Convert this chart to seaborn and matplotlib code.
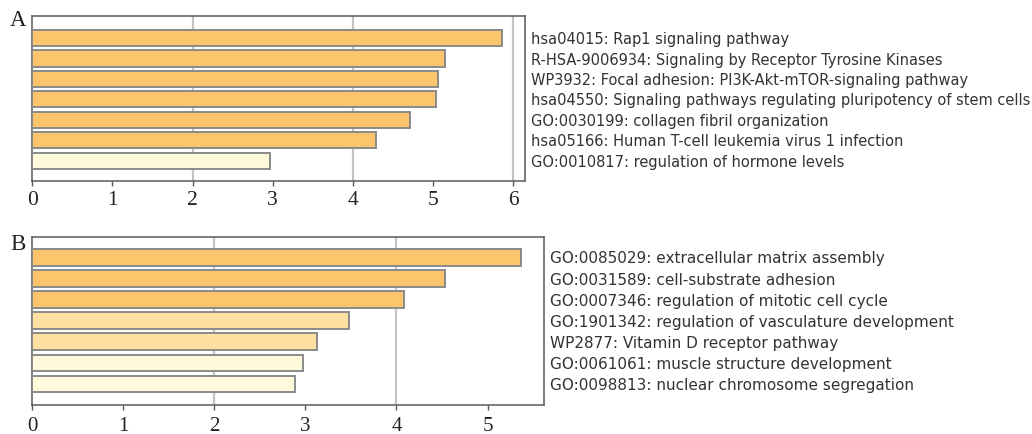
import matplotlib
matplotlib.use("Agg")
import matplotlib.pyplot as plt
import seaborn as sns
import pandas as pd

# ---- data ----
terms_a = [
    "hsa04015: Rap1 signaling pathway",
    "R-HSA-9006934: Signaling by Receptor Tyrosine Kinases",
    "WP3932: Focal adhesion: PI3K-Akt-mTOR-signaling pathway",
    "hsa04550: Signaling pathways regulating pluripotency of stem cells",
    "GO:0030199: collagen fibril organization",
    "hsa05166: Human T-cell leukemia virus 1 infection",
    "GO:0010817: regulation of hormone levels",
]
values_a = [5.86, 5.15, 5.06, 5.04, 4.72, 4.29, 2.97]
colors_a = ["#FDC56B", "#FDC56B", "#FDC56B", "#FDC56B", "#FDC56B", "#FDC56B", "#FFF9DC"]

terms_b = [
    "GO:0085029: extracellular matrix assembly",
    "GO:0031589: cell-substrate adhesion",
    "GO:0007346: regulation of mitotic cell cycle",
    "GO:1901342: regulation of vasculature development",
    "WP2877: Vitamin D receptor pathway",
    "GO:0061061: muscle structure development",
    "GO:0098813: nuclear chromosome segregation",
]
values_b = [5.37, 4.53, 4.08, 3.48, 3.13, 2.97, 2.88]
colors_b = ["#FDC56B", "#FDC56B", "#FDC56B", "#FDE0A2", "#FDE0A2", "#FFF9DC", "#FFF9DC"]

xticks_a = [0, 1, 2, 3, 4, 5, 6]
xticks_b = [0, 1, 2, 3, 4, 5]

sns.set_style("white")

fig = plt.figure(figsize=(10.32, 4.34), dpi=100)
ax_a = fig.add_axes([0.0313, 0.583, 0.4774, 0.380])
ax_b = fig.add_axes([0.0313, 0.0668, 0.4958, 0.387])

serif = "Liberation Serif"
frame_col = "#5a5a5a"
grid_col = "#c4c4c4"


def draw(ax, terms, values, colors, xticks, xmax, ytop, label_size, tick_pad, tick_size):
    df = pd.DataFrame({"term": terms, "value": values})
    sns.barplot(data=df, x="value", y="term", hue="term", palette=colors,
                saturation=1, orient="h", width=0.79, edgecolor="#8a8a8a",
                linewidth=1.4, legend=False, ax=ax, zorder=3)
    ax.set_xlim(0, xmax)
    ax.set_ylim(len(terms) - 1 + 1.0, ytop)
    ax.set_xticks(xticks)
    ax.set_xticklabels([str(t) for t in xticks])
    for lab in ax.get_xticklabels():
        lab.set_fontfamily(serif)
        lab.set_fontsize(tick_size)
        lab.set_color("#222222")
    for x in xticks:
        if x > 0 and x % 2 == 0:
            ax.axvline(x, color=grid_col, lw=1.6, zorder=1)
    ax.tick_params(axis="x", direction="out", length=3.5, width=1.0,
                   color=frame_col, pad=tick_pad, bottom=True)
    ax.yaxis.tick_right()
    ax.tick_params(axis="y", length=0, pad=4.5, labelsize=label_size,
                   labelcolor="#333333")
    for lab in ax.get_yticklabels():
        lab.set_fontfamily("DejaVu Sans")
    ax.set_xlabel("")
    ax.set_ylabel("")
    for sp in ax.spines.values():
        sp.set_visible(True)
        sp.set_color(frame_col)
        sp.set_linewidth(1.1)


draw(ax_a, terms_a, values_a, colors_a, xticks_a, 6.15, -1.08, 10.5, 3.5, 15.5)
draw(ax_b, terms_b, values_b, colors_b, xticks_b, 5.62, -0.97, 11.0, 5.0, 15.0)

fig.text(18 / 1032, 1 - 21 / 434, "A", fontfamily=serif, fontsize=16.5,
         ha="center", va="center", color="#222222")
fig.text(17.5 / 1032, 1 - 244 / 434, "B", fontfamily=serif, fontsize=16.5,
         ha="center", va="center", color="#222222")

fig.savefig("out.png", dpi=100)
